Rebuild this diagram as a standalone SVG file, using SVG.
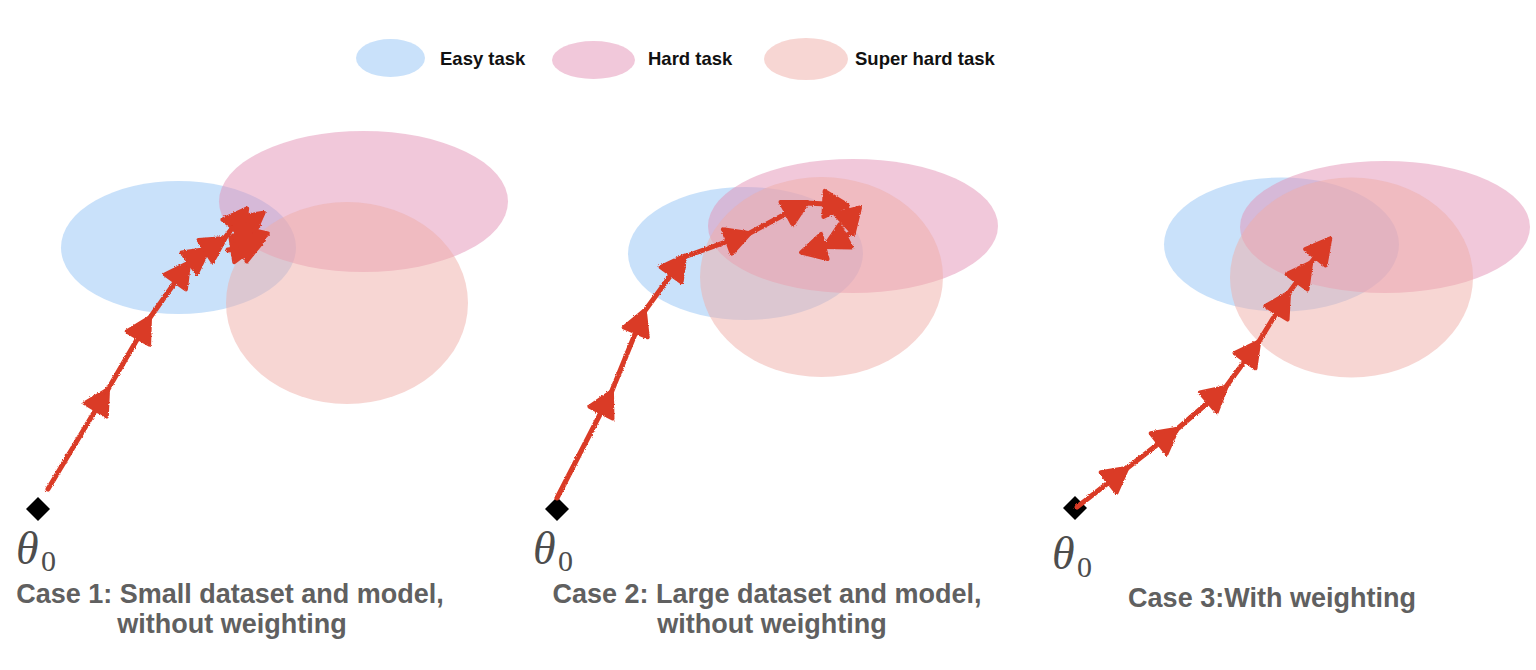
<svg xmlns="http://www.w3.org/2000/svg" width="1536" height="670" viewBox="0 0 1536 670">
  <style>
    .easy { fill: #94C4F5; fill-opacity: 0.5; }
    .hard { fill: #E391B5; fill-opacity: 0.5; }
    .super { fill: #EFADA7; fill-opacity: 0.5; }
    .legend { font-family: "Liberation Sans", Arial, sans-serif; font-weight: bold; font-size: 18.5px; fill: #111111; }
    .caption { font-family: "Liberation Sans", Arial, sans-serif; font-weight: bold; font-size: 27px; fill: #606060; text-anchor: middle; }
    .theta { font-family: "Liberation Serif", "Times New Roman", serif; font-style: italic; font-size: 46px; fill: #4d4d4d; }
    .sub { font-family: "Liberation Serif", "Times New Roman", serif; font-size: 30px; fill: #4d4d4d; }
    .step { stroke: #DA3B27; stroke-width: 5; stroke-linecap: round; fill: none; marker-end: url(#ah); }
    .start { fill: #000000; }
  </style>
  <defs>
    <marker id="ah" markerUnits="userSpaceOnUse" markerWidth="40" markerHeight="40" viewBox="-32 -20 40 40" refX="0" refY="0" orient="auto" overflow="visible">
      <path d="M2,0 L-22,-13 L-22,13 Z" fill="#DA3B27" stroke="#DA3B27" stroke-width="4" stroke-linejoin="round"/>
    </marker>
    <filter id="rough" x="-10%" y="-10%" width="120%" height="120%">
      <feTurbulence type="fractalNoise" baseFrequency="0.9" numOctaves="1" seed="3" result="n"/>
      <feDisplacementMap in="SourceGraphic" in2="n" scale="3" xChannelSelector="R" yChannelSelector="G"/>
    </filter>
  </defs>

  <rect width="1536" height="670" fill="#ffffff"/>

  <!-- Legend -->
  <g id="legend">
    <g id="legend-easy">
      <ellipse class="easy" cx="390.5" cy="58" rx="34.5" ry="19"/>
      <text class="legend" x="440" y="65">Easy task</text>
    </g>
    <g id="legend-hard">
      <ellipse class="hard" cx="593.5" cy="60" rx="41.5" ry="19"/>
      <text class="legend" x="648" y="65">Hard task</text>
    </g>
    <g id="legend-super">
      <ellipse class="super" cx="806" cy="59" rx="42" ry="21"/>
      <text class="legend" x="855" y="65">Super hard task</text>
    </g>
  </g>

  <!-- Case 1 -->
  <g id="case1">
    <g id="c1-easy"><ellipse class="easy" cx="178.5" cy="247.5" rx="117.5" ry="66.5"/></g>
    <g id="c1-hard"><ellipse class="hard" cx="363.5" cy="201.5" rx="144.5" ry="70.5"/></g>
    <g id="c1-super"><ellipse class="super" cx="347" cy="303" rx="121" ry="101"/></g>
    <g id="c1-start"><rect class="start" x="29.5" y="500.5" width="17" height="17" transform="rotate(45 38 509)"/></g>
    <g id="c1-theta"><text class="theta" x="16" y="564">θ</text><text class="sub" x="41" y="571">0</text></g>
    <g id="c1-caption">
      <text class="caption" x="230" y="603">Case 1: Small dataset and model,</text>
      <text class="caption" x="232" y="633">without weighting</text>
    </g>
  </g>

  <!-- Case 2 -->
  <g id="case2">
    <g id="c2-easy"><ellipse class="easy" cx="745.5" cy="253.5" rx="117.5" ry="66.5"/></g>
    <g id="c2-hard"><ellipse class="hard" cx="853" cy="226" rx="145" ry="67"/></g>
    <g id="c2-super"><ellipse class="super" cx="821.5" cy="277" rx="121.5" ry="100"/></g>
    <g id="c2-start"><rect class="start" x="548.5" y="500.5" width="17" height="17" transform="rotate(45 557 509)"/></g>
    <g id="c2-theta"><text class="theta" x="533" y="564">θ</text><text class="sub" x="558" y="571">0</text></g>
    <g id="c2-caption">
      <text class="caption" x="767" y="603">Case 2: Large dataset and model,</text>
      <text class="caption" x="772" y="633">without weighting</text>
    </g>
  </g>

  <!-- Case 3 -->
  <g id="case3">
    <g id="c3-easy"><ellipse class="easy" cx="1281.5" cy="244.5" rx="117.5" ry="67"/></g>
    <g id="c3-hard"><ellipse class="hard" cx="1385" cy="227" rx="145" ry="66"/></g>
    <g id="c3-super"><ellipse class="super" cx="1351.5" cy="277.5" rx="121.5" ry="100"/></g>
    <g id="c3-start"><rect class="start" x="1066.5" y="499.5" width="17" height="17" transform="rotate(45 1075 508)"/></g>
    <g id="c3-theta"><text class="theta" x="1052" y="569">θ</text><text class="sub" x="1077" y="577">0</text></g>
    <g id="c3-caption">
      <text class="caption" x="1272" y="607">Case 3:With weighting</text>
    </g>
  </g>

  <!-- Connectors: optimisation steps -->
  <g id="connectors" filter="url(#rough)">
    <g id="steps-case1">
      <line class="step" x1="48" y1="489" x2="107" y2="391"/>
      <line class="step" x1="107" y1="391" x2="149" y2="319"/>
      <line class="step" x1="149" y1="319" x2="188" y2="264"/>
      <line class="step" x1="188" y1="264" x2="207" y2="250"/>
      <line class="step" x1="207" y1="250" x2="224" y2="239"/>
      <line class="step" x1="224" y1="239" x2="246" y2="210"/>
      <line class="step" x1="232" y1="237" x2="262" y2="214"/>
      <line class="step" x1="238" y1="242" x2="266" y2="234"/>
      <line class="step" x1="228" y1="250" x2="254" y2="246"/>
      <line class="step" x1="232" y1="228" x2="257" y2="226"/>
      <line class="step" x1="240" y1="250" x2="262" y2="241"/>
    </g>
    <g id="steps-case2">
      <line class="step" x1="557" y1="498" x2="611" y2="393"/>
      <line class="step" x1="611" y1="393" x2="644" y2="312"/>
      <line class="step" x1="644" y1="312" x2="684" y2="257"/>
      <line class="step" x1="684" y1="257" x2="748" y2="234"/>
      <line class="step" x1="748" y1="234" x2="806" y2="203"/>
      <line class="step" x1="806" y1="203" x2="846" y2="205"/>
      <line class="step" x1="846" y1="205" x2="853" y2="232"/>
      <line class="step" x1="853" y1="232" x2="826" y2="246"/>
      <line class="step" x1="826" y1="246" x2="803" y2="252"/>
    </g>
    <g id="steps-case3">
      <line class="step" x1="1077" y1="507" x2="1126" y2="469"/>
      <line class="step" x1="1126" y1="469" x2="1176" y2="430"/>
      <line class="step" x1="1176" y1="430" x2="1225" y2="388"/>
      <line class="step" x1="1225" y1="388" x2="1258" y2="343"/>
      <line class="step" x1="1258" y1="343" x2="1288" y2="294"/>
      <line class="step" x1="1288" y1="294" x2="1310" y2="264"/>
      <line class="step" x1="1310" y1="264" x2="1329" y2="240"/>
    </g>
  </g>
</svg>
